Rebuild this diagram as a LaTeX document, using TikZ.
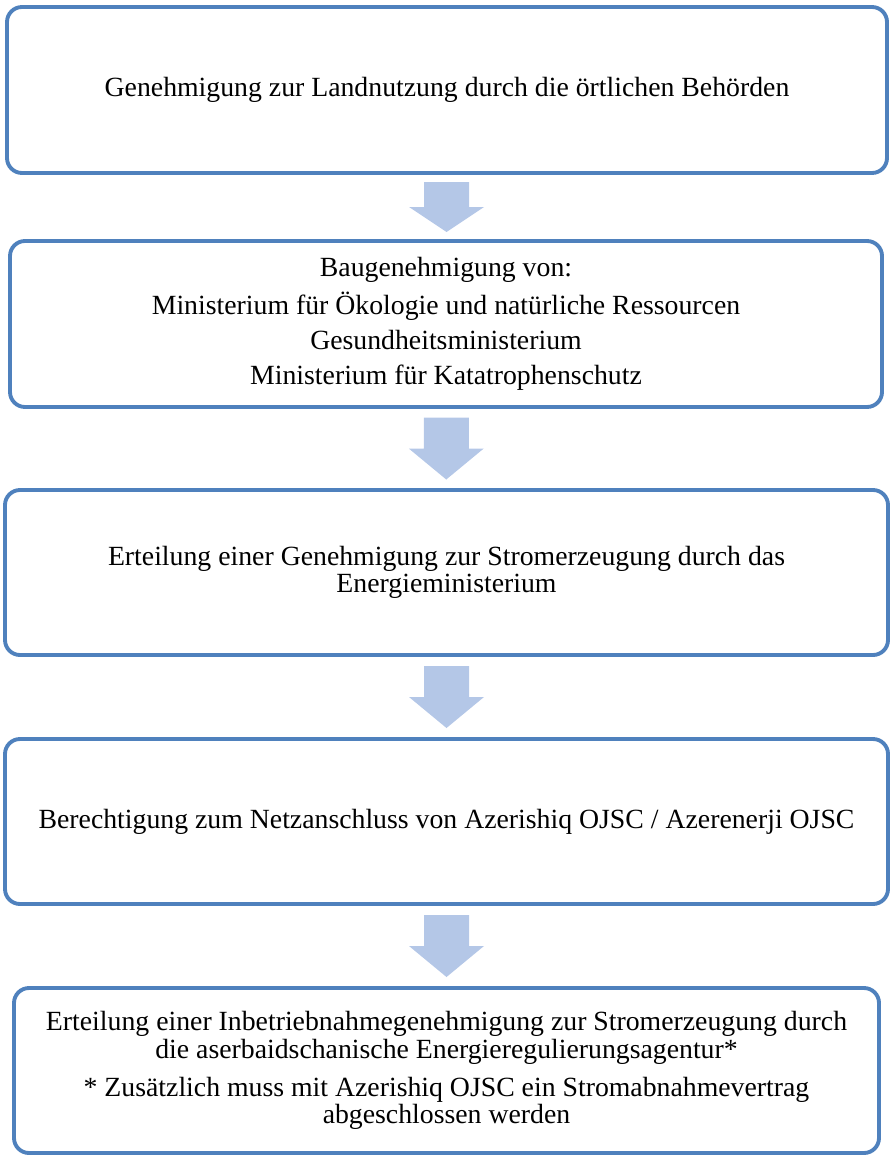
\documentclass[tikz,border=0pt]{standalone}
\usepackage{fontspec}
\setmainfont{Liberation Serif}
\usetikzlibrary{calc}

\definecolor{boxblue}{RGB}{79,129,189}
\definecolor{arrowblue}{RGB}{180,199,231}

\tikzset{
	stepbox/.style={draw=boxblue, line width=2.2pt, rounded corners=0.3cm, fill=white, align=center, anchor=center, inner sep=0pt, font=\fontsize{15.8}{15.6}\selectfont},
	flowarrow/.style={fill=arrowblue}
}

\begin{document}
\begin{tikzpicture}
	
	\useasboundingbox (0,0) rectangle (17.82,-23.18);
	
	%the five steps
	\node[stepbox, minimum width=17.6cm, minimum height=3.32cm] (land) at (8.94,-1.80) {Genehmigung zur Landnutzung durch die örtlichen Behörden};
	\node[stepbox, minimum width=17.44cm, minimum height=3.32cm] (bau) at (8.92,-6.48) {Baugenehmigung von:\\[4.3pt] Ministerium für Ökologie und natürliche Ressourcen\\[4.3pt] Gesundheitsministerium\\[4.3pt] Ministerium für Katatrophenschutz};
	\node[stepbox, minimum width=17.66cm, minimum height=3.30cm] (strom) at (8.93,-11.45) {Erteilung einer Genehmigung zur Stromerzeugung durch das\\ Energieministerium};
	\node[stepbox, minimum width=17.66cm, minimum height=3.30cm] (netz) at (8.93,-16.43) {Berechtigung zum Netzanschluss von Azerishiq OJSC / Azerenerji OJSC};
	\node[stepbox, minimum width=17.3cm, minimum height=3.30cm] (betrieb) at (8.93,-21.41) {Erteilung einer Inbetriebnahmegenehmigung zur Stromerzeugung durch\\ die aserbaidschanische Energieregulierungsagentur*\\[6pt] * Zusätzlich muss mit Azerishiq OJSC ein Stromabnahmevertrag\\ abgeschlossen werden};
	
	%block arrows between the steps
	\foreach \a/\b/\h in {land/bau/0.5, bau/strom/0.62, strom/netz/0.62, netz/betrieb/0.62} {
		\coordinate (mid) at ($(\a.south)!0.5!(\b.north)$);
		\fill[flowarrow] (mid) ++(-0.45,\h) -- ++(0.9,0) -- ++(0,-\h) -- ++(0.3,0) -- ++(-0.75,-\h) -- ++(-0.75,\h) -- ++(0.3,0) -- cycle;
	}
	
\end{tikzpicture}
\end{document}
